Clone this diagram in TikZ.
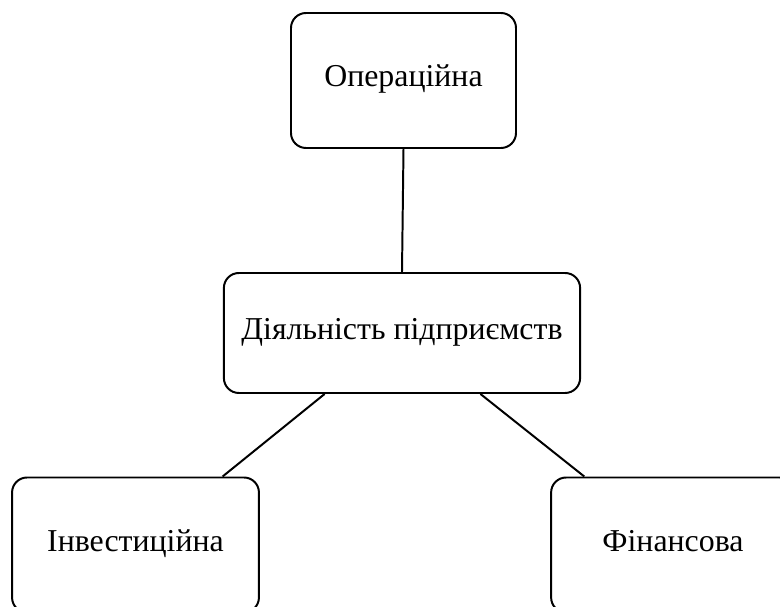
\documentclass[tikz,border=0pt]{standalone}
\usepackage{fontspec}
\setmainfont{Liberation Serif}
\usetikzlibrary{calc}
\begin{document}
\begin{tikzpicture}[x=0.16mm, y=-0.16mm,
    actbox/.style={draw, line width=0.9pt, rounded corners=2.4mm, align=center,
        inner sep=0pt, text height=0.7em, text depth=0.12em,
        font=\fontsize{14.5}{17}\selectfont},
    link/.style={line width=0.9pt}]
    % page frame (pixel units, y downwards)
    \useasboundingbox (0,0) rectangle (780,607);

    % central activity box
    \node[actbox, minimum width=57mm, minimum height=19.2mm] (act) at (402,333) {Діяльність підприємств};

    % the three kinds of activity
    \node[actbox, minimum width=36mm, minimum height=21.6mm] (oper) at (403.5,80.5) {Операційна};
    \node[actbox, minimum width=39.5mm, minimum height=21.6mm] (inv) at (135.5,545) {Інвестиційна};
    \node[actbox, minimum width=39mm, minimum height=21.6mm] (fin) at (673,545) {Фінансова};

    % connectors
    \draw[link] (oper.south) -- (act.north);
    \draw[link] ($(act.south west)!0.284!(act.south east)$) -- ($(inv.north west)!0.85!(inv.north east)$);
    \draw[link] ($(act.south west)!0.719!(act.south east)$) -- ($(fin.north west)!0.139!(fin.north east)$);
\end{tikzpicture}
\end{document}
